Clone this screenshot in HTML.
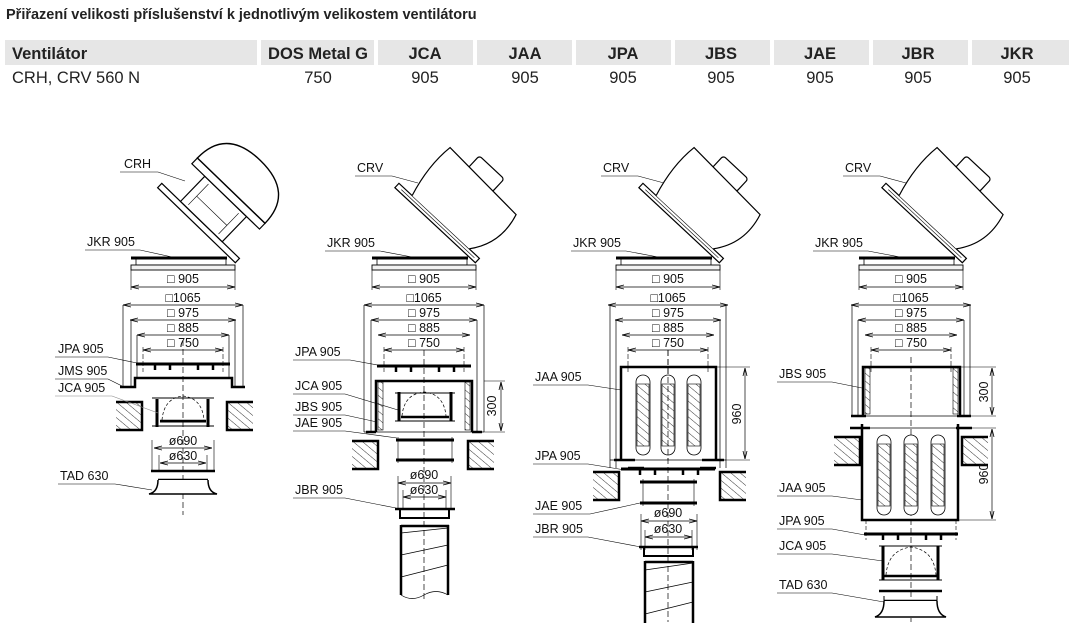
<!DOCTYPE html>
<html><head><meta charset="utf-8"><style>
html,body{margin:0;padding:0;background:#fff;width:1074px;height:623px;overflow:hidden}
svg{display:block}
text{font-family:"Liberation Sans",Arial,sans-serif}
</style></head><body>
<svg width="1074" height="623" viewBox="0 0 1074 623" xmlns="http://www.w3.org/2000/svg">
<defs>
<pattern id="h" width="6" height="6" patternUnits="userSpaceOnUse" patternTransform="rotate(-50)">
<line x1="0" y1="0" x2="0" y2="6" stroke="#000" stroke-width="0.8"/></pattern>
<marker id="a" markerWidth="8" markerHeight="6" refX="8" refY="3" orient="auto-start-reverse" markerUnits="userSpaceOnUse">
<path d="M0,1 L8,3 L0,5" fill="none" stroke="#000" stroke-width="0.8"/></marker>
<g id="top">
 <line x1="-52" y1="258" x2="44" y2="258" stroke="#000" stroke-width="3"/>
 <rect x="-47" y="259" width="90" height="6" fill="none" stroke="#000" stroke-width="0.8"/>
 <rect x="-52" y="265" width="104" height="5" fill="#f2f2f2" stroke="#000" stroke-width="0.9"/>
 <line x1="-52" y1="270" x2="-52" y2="290" stroke="#000" stroke-width="0.6"/>
 <line x1="52" y1="270" x2="52" y2="290" stroke="#000" stroke-width="0.6"/>
 <line x1="-52" y1="287" x2="52" y2="287" stroke="#000" stroke-width="0.7" marker-start="url(#a)" marker-end="url(#a)"/>
 <line x1="-60" y1="305" x2="60" y2="305" stroke="#000" stroke-width="0.7" marker-start="url(#a)" marker-end="url(#a)"/>
 <line x1="-53" y1="320" x2="53" y2="320" stroke="#000" stroke-width="0.7" marker-start="url(#a)" marker-end="url(#a)"/>
 <line x1="-46" y1="335" x2="46" y2="335" stroke="#000" stroke-width="0.7" marker-start="url(#a)" marker-end="url(#a)"/>
 <line x1="-40" y1="350" x2="40" y2="350" stroke="#000" stroke-width="0.7" marker-start="url(#a)" marker-end="url(#a)"/>
 <line x1="-40" y1="347" x2="-40" y2="372" stroke="#000" stroke-width="0.6" stroke-dasharray="5,2"/>
 <line x1="40" y1="347" x2="40" y2="372" stroke="#000" stroke-width="0.6" stroke-dasharray="5,2"/>
</g>
<g id="crv">
 <rect x="-110" y="-5" width="110" height="6" fill="#fff" stroke="#000" stroke-width="1.2"/>
 <line x1="-104" y1="-2" x2="-4" y2="-2" stroke="#000" stroke-width="0.6"/>
 <rect x="-70" y="-80" width="34" height="18" rx="3" fill="#fff" stroke="#000" stroke-width="1.2"/>
 <path d="M-92,-5 Q-101,-38 -97,-66 L-3,-62 Q6,-30 -14,-5" fill="#fff" stroke="#000" stroke-width="1.2"/>
</g>
<g id="wallL"><rect x="0" y="0" width="26" height="28" fill="url(#h)"/><path d="M0,0 H26 V28 H0" fill="none" stroke="#000" stroke-width="2.5"/></g>
<g id="wallR"><rect x="0" y="0" width="26" height="28" fill="url(#h)"/><path d="M26,0 H0 V28 H26" fill="none" stroke="#000" stroke-width="2.5"/></g>
<g id="oval"><rect x="-7" y="0" width="14" height="80" rx="7" fill="#fff" stroke="#000" stroke-width="0.8"/><rect x="-6" y="9" width="12" height="62" fill="url(#h)" stroke="#000" stroke-width="0.6"/></g>
<g id="teeth"><line x1="-47" y1="0" x2="47" y2="0" stroke="#000" stroke-width="3"/>
 <g stroke="#000" stroke-width="2.5"><line x1="-28" y1="0" x2="-28" y2="6"/><line x1="-13" y1="0" x2="-13" y2="6"/><line x1="15" y1="0" x2="15" y2="6"/><line x1="30" y1="0" x2="30" y2="6"/></g></g>
</defs>

<text x="6" y="19" font-size="14.5" font-weight="bold" fill="#222">Přiřazení velikosti příslušenství k jednotlivým velikostem ventilátoru</text>
<g fill="#e6e6e6">
<rect x="5" y="40" width="252" height="25"/><rect x="261" y="40" width="113" height="25"/>
<rect x="378" y="40" width="95" height="25"/><rect x="477" y="40" width="95" height="25"/>
<rect x="576" y="40" width="95" height="25"/><rect x="675" y="40" width="95" height="25"/>
<rect x="774" y="40" width="95" height="25"/><rect x="873" y="40" width="95" height="25"/>
<rect x="972" y="40" width="97" height="25"/>
</g>
<g font-size="16.5" font-weight="bold" fill="#222" text-anchor="middle">
<text x="12" y="59" text-anchor="start">Ventilátor</text><text x="318" y="59">DOS Metal G</text>
<text x="425" y="59">JCA</text><text x="525" y="59">JAA</text><text x="623" y="59">JPA</text>
<text x="721" y="59">JBS</text><text x="820" y="59">JAE</text><text x="918" y="59">JBR</text><text x="1017" y="59">JKR</text>
</g>
<g font-size="16.5" fill="#222" text-anchor="middle">
<text x="12" y="83" text-anchor="start">CRH, CRV 560 N</text><text x="318" y="83">750</text>
<text x="425" y="83">905</text><text x="525" y="83">905</text><text x="623" y="83">905</text>
<text x="721" y="83">905</text><text x="820" y="83">905</text><text x="918" y="83">905</text><text x="1017" y="83">905</text>
</g>

<use href="#top" x="183"/><use href="#top" x="424"/><use href="#top" x="668"/><use href="#top" x="911"/>
<use href="#crv" transform="translate(476,262) rotate(43)"/>
<use href="#crv" transform="translate(720,262) rotate(43)"/>
<use href="#crv" transform="translate(963,262) rotate(43)"/>
<g transform="translate(236,262) rotate(44)" stroke="#000" fill="#fff">
 <rect x="-108" y="-5" width="108" height="6" stroke-width="1.2"/>
 <rect x="-82" y="-40" width="58" height="35" stroke-width="1.2"/>
 <path d="M-74,-8 V-37 M-32,-8 V-37 M-74,-20 H-32" stroke-width="0.6" fill="none"/>
 <rect x="-100" y="-48" width="94" height="8" stroke-width="1.2"/>
 <path d="M-100,-48 Q-100,-90 -53,-90 Q-6,-90 -6,-48 Z" stroke-width="1.4"/>
</g>

<g font-size="12.5" fill="#111" text-anchor="middle">
<text x="183" y="283">□ 905</text><text x="183" y="302">□1065</text><text x="183" y="317">□ 975</text><text x="183" y="332">□ 885</text><text x="183" y="347">□ 750</text>
<text x="424" y="283">□ 905</text><text x="424" y="302">□1065</text><text x="424" y="317">□ 975</text><text x="424" y="332">□ 885</text><text x="424" y="347">□ 750</text>
<text x="668" y="283">□ 905</text><text x="668" y="302">□1065</text><text x="668" y="317">□ 975</text><text x="668" y="332">□ 885</text><text x="668" y="347">□ 750</text>
<text x="911" y="283">□ 905</text><text x="911" y="302">□1065</text><text x="911" y="317">□ 975</text><text x="911" y="332">□ 885</text><text x="911" y="347">□ 750</text>
</g>

<!-- Diagram 1 -->
<g stroke="#000" fill="none">
 <path d="M123,305 V386 M131,320 V386 M137,335 V377 M243,305 V386 M235,320 V386 M229,335 V377" stroke-width="0.7"/>
 <line x1="183" y1="340" x2="183" y2="515" stroke-width="0.7" stroke-dasharray="6,3"/>
 <path d="M120,387 H135 V378 H232 V387 H245" stroke-width="2.5"/>
</g>
<use href="#teeth" x="183" y="364"/>
<use href="#wallL" x="116" y="402"/><use href="#wallR" x="227" y="402"/>
<g stroke="#000" fill="none">
 <path d="M157,399 V427 M208,399 V427" stroke-width="3"/>
 <path d="M152,398 H214 M152,426 H214 M160,422 H206" stroke-width="1"/>
 <line x1="160" y1="421" x2="206" y2="421" stroke-width="2.5"/>
 <path d="M162,420 Q164,398 183,396 Q202,398 204,420" stroke-width="0.7" stroke-dasharray="3,2"/>
 <path d="M152,440 V470 M214,440 V470 M159,455 V470 M207,455 V470" stroke-width="0.6"/>
 <line x1="154" y1="448" x2="212" y2="448" stroke-width="0.7" marker-start="url(#a)" marker-end="url(#a)"/>
 <line x1="160" y1="463" x2="206" y2="463" stroke-width="0.7" marker-start="url(#a)" marker-end="url(#a)"/>
 <line x1="151" y1="471" x2="215" y2="471" stroke-width="2.5"/>
 <line x1="158" y1="480" x2="208" y2="480" stroke-width="2.5"/>
 <path d="M158,480 Q158,492 149,494 H217 Q208,492 208,480" stroke-width="1.5" fill="#fff"/>
</g>
<g font-size="12.5" fill="#111" text-anchor="middle">
 <text x="183" y="445">ø690</text><text x="183" y="460">ø630</text>
</g>

<!-- Diagram 2 -->
<g stroke="#000" fill="none">
 <path d="M364,305 V432 M371,320 V432 M484,305 V432 M477,320 V432" stroke-width="0.7"/>
 <line x1="424" y1="350" x2="424" y2="600" stroke-width="0.7" stroke-dasharray="6,3"/>
 <rect x="378" y="382" width="5" height="48" fill="url(#h)" stroke-width="0.6"/>
 <rect x="465" y="382" width="5" height="48" fill="url(#h)" stroke-width="0.6"/>
 <path d="M376,432 V381 H472 V432" stroke-width="2.5"/>
 <path d="M364,432 H484" stroke-width="0.8"/>
 <path d="M366,432 H376 M472,432 H482" stroke-width="2.5"/>
 <path d="M484,381 H505 M484,432 H505" stroke-width="0.6"/>
 <line x1="501" y1="382" x2="501" y2="431" stroke-width="0.7" marker-start="url(#a)" marker-end="url(#a)"/>
 <path d="M399,392 V421 M451,392 V421" stroke-width="3"/>
 <path d="M395,393 H455 M395,421 H455" stroke-width="1"/>
 <line x1="401" y1="417" x2="449" y2="417" stroke-width="2.5"/>
 <path d="M402,416 Q404,394 424,392 Q444,394 446,416" stroke-width="0.7" stroke-dasharray="3,2"/>
 <path d="M396,440 H454 M396,460 H454" stroke-width="3"/>
 <path d="M398,437 V463 M452,437 V463" stroke-width="0.6"/>
 <path d="M398,476 V510 M451,476 V510 M403,490 V510 M446,490 V510" stroke-width="0.6"/>
 <line x1="398" y1="483" x2="451" y2="483" stroke-width="0.7" marker-start="url(#a)" marker-end="url(#a)"/>
 <line x1="403" y1="497" x2="446" y2="497" stroke-width="0.7" marker-start="url(#a)" marker-end="url(#a)"/>
 <path d="M395,509 H455" stroke-width="2.5"/>
 <path d="M400,509 V518 H449 V509" stroke-width="2"/>
 <path d="M401,526 H449 M401,525 V595 M448,525 V595" stroke-width="2.5"/>
 <path d="M401,533 L448,528 M401,555 L448,545 M401,577 L448,565" stroke-width="0.7"/>
 <path d="M401,595 Q412,602 424,595 Q436,588 448,595" stroke-width="0.7"/>
</g>
<use href="#teeth" x="424" y="366"/>
<use href="#wallL" x="352" y="441"/><use href="#wallR" x="468" y="441"/>
<g font-size="12.5" fill="#111" text-anchor="middle">
 <text x="424" y="479">ø690</text><text x="424" y="494">ø630</text>
 <text transform="translate(496,406) rotate(-90)">300</text>
</g>

<!-- Diagram 3 -->
<g stroke="#000" fill="none">
 <path d="M610,305 V468 M616,320 V468 M726,305 V468 M720,320 V468" stroke-width="0.7"/>
 <line x1="668" y1="350" x2="668" y2="622" stroke-width="0.7" stroke-dasharray="6,3"/>
 <path d="M621,460 V367 H716 V460" stroke-width="2.5"/>
 <path d="M610,460 H726" stroke-width="0.8"/>
 <path d="M614,460 H635 M702,460 H724" stroke-width="2.5"/>
 <path d="M716,367 H750 M726,460 H750" stroke-width="0.6"/>
 <line x1="745" y1="368" x2="745" y2="459" stroke-width="0.7" marker-start="url(#a)" marker-end="url(#a)"/>
 <path d="M628,468 H644 M700,468 H716" stroke-width="2.5"/>
 <path d="M640,482 H697 M640,503 H697" stroke-width="3"/>
 <path d="M643,479 V506 M694,479 V506" stroke-width="0.6"/>
 <path d="M641,514 V550 M697,514 V550 M645,530 V550 M692,530 V550" stroke-width="0.6"/>
 <line x1="641" y1="521" x2="697" y2="521" stroke-width="0.7" marker-start="url(#a)" marker-end="url(#a)"/>
 <line x1="645" y1="537" x2="692" y2="537" stroke-width="0.7" marker-start="url(#a)" marker-end="url(#a)"/>
 <path d="M639,547 H698" stroke-width="2.5"/>
 <path d="M644,547 V556 H693 V547" stroke-width="2"/>
 <path d="M645,562 H693 M645,561 V623 M693,561 V623" stroke-width="2.5"/>
 <path d="M645,570 L693,563 M645,592 L693,582 M645,614 L693,602" stroke-width="0.7"/>
</g>
<use href="#oval" x="643" y="375"/><use href="#oval" x="668" y="375"/><use href="#oval" x="694" y="375"/>
<line x1="668" y1="350" x2="668" y2="460" stroke="#000" stroke-width="0.7" stroke-dasharray="6,3"/>
<use href="#teeth" x="668" y="469"/>
<use href="#wallL" x="593" y="472"/><use href="#wallR" x="720" y="472"/>
<g font-size="12.5" fill="#111" text-anchor="middle">
 <text x="668" y="517">ø690</text><text x="668" y="533">ø630</text>
 <text transform="translate(741,414) rotate(-90)">960</text>
</g>

<!-- Diagram 4 -->
<g stroke="#000" fill="none">
 <path d="M852,305 V416 M858,320 V416 M970,305 V416 M964,320 V416" stroke-width="0.7"/>
 <line x1="911" y1="357" x2="911" y2="622" stroke-width="0.7" stroke-dasharray="6,3"/>
 <rect x="865" y="368" width="5" height="46" fill="url(#h)" stroke-width="0.6"/>
 <rect x="953" y="368" width="5" height="46" fill="url(#h)" stroke-width="0.6"/>
 <path d="M863,416 V367 H960 V416" stroke-width="2.5"/>
 <path d="M852,416 H970" stroke-width="0.8"/>
 <path d="M851,416 H866 M957,416 H971" stroke-width="2.5"/>
 <path d="M960,367 H996 M970,416 H996" stroke-width="0.6"/>
 <line x1="992" y1="368" x2="992" y2="415" stroke-width="0.7" marker-start="url(#a)" marker-end="url(#a)"/>
 <path d="M850,428 H870 M956,428 H972" stroke-width="2.5"/>
 <path d="M862,428 H972" stroke-width="0.7"/>
 <path d="M862,424 V520 H958 V424" stroke-width="2.5"/>
 <path d="M972,428 H996 M958,520 H996" stroke-width="0.6"/>
 <line x1="992" y1="429" x2="992" y2="519" stroke-width="0.7" marker-start="url(#a)" marker-end="url(#a)"/>
 <path d="M866,520 V540 M956,520 V540" stroke-width="0.6" stroke-dasharray="4,2"/>
 <path d="M883,546 V580 M938,546 V580" stroke-width="3"/>
 <path d="M879,546 H942 M879,580 H942" stroke-width="1"/>
 <line x1="884" y1="576" x2="937" y2="576" stroke-width="2.5"/>
 <path d="M886,575 Q888,550 911,547 Q934,550 936,575" stroke-width="0.7" stroke-dasharray="3,2"/>
 <path d="M879,591 H942" stroke-width="2.5"/>
 <line x1="884" y1="601" x2="937" y2="601" stroke-width="2.5"/>
 <path d="M884,596 V610 M937,596 V610" stroke-width="1"/>
 <path d="M884,601 Q884,614 875,617 H946 Q937,614 937,601" stroke-width="1.5" fill="#fff"/>
</g>
<use href="#oval" x="884" y="435"/><use href="#oval" x="911" y="435"/><use href="#oval" x="938" y="435"/>
<use href="#teeth" x="911" y="534"/>
<use href="#wallL" x="834" y="437"/><use href="#wallR" x="962" y="437"/>
<g font-size="12.5" fill="#111" text-anchor="middle">
 <text transform="translate(988,392) rotate(-90)">300</text>
 <text transform="translate(988,474) rotate(-90)">960</text>
</g>

<g font-size="12.5" fill="#111">
 <text x="124" y="168">CRH</text><text x="87" y="246">JKR 905</text>
 <text x="58" y="353">JPA 905</text><text x="58" y="375">JMS 905</text><text x="58" y="392">JCA 905</text><text x="60" y="480">TAD 630</text>
 <text x="357" y="172">CRV</text><text x="327" y="247">JKR 905</text>
 <text x="295" y="356">JPA 905</text><text x="295" y="390">JCA 905</text><text x="295" y="411">JBS 905</text><text x="295" y="427">JAE 905</text><text x="295" y="494">JBR 905</text>
 <text x="603" y="172">CRV</text><text x="573" y="247">JKR 905</text>
 <text x="535" y="381">JAA 905</text><text x="535" y="460">JPA 905</text><text x="535" y="510">JAE 905</text><text x="535" y="533">JBR 905</text>
 <text x="845" y="172">CRV</text><text x="815" y="247">JKR 905</text>
 <text x="779" y="378">JBS 905</text><text x="779" y="492">JAA 905</text><text x="779" y="525">JPA 905</text><text x="779" y="550">JCA 905</text><text x="779" y="589">TAD 630</text>
</g>
<g stroke="#000" stroke-width="0.6" fill="none">
 <path d="M120,172 H158 L185,181"/><path d="M85,250 H140 L172,257"/>
 <path d="M55,357 H108 L137,363"/><path d="M55,379 H108 L122,386"/><path d="M55,396 H112 L158,413" stroke="#888"/><path d="M58,484 H115 L152,490"/>
 <path d="M355,176 H392 L418,183"/><path d="M325,251 H380 L412,257"/>
 <path d="M293,360 H350 L383,366"/><path d="M293,394 H345 L398,410"/><path d="M293,415 H345 L377,422"/><path d="M293,431 H345 L397,438"/><path d="M293,498 H345 L396,508"/>
 <path d="M601,176 H638 L664,183"/><path d="M571,251 H626 L658,257"/>
 <path d="M533,385 H588 L621,390"/><path d="M533,464 H588 L625,470"/><path d="M533,514 H590 L640,503"/><path d="M533,537 H588 L641,547"/>
 <path d="M843,176 H880 L906,183"/><path d="M813,251 H868 L900,257"/>
 <path d="M777,382 H832 L862,388"/><path d="M777,496 H832 L862,500"/><path d="M777,529 H832 L865,535"/><path d="M777,554 H832 L883,561"/><path d="M777,593 H832 L884,602"/>
</g>
</svg>
</body></html>
